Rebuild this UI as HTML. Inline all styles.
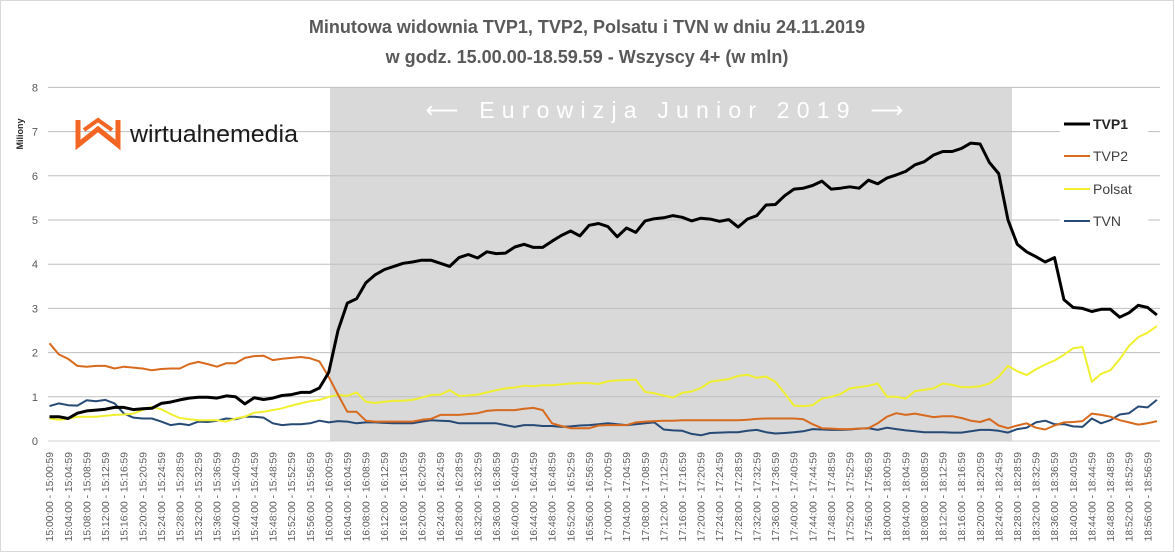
<!DOCTYPE html>
<html><head><meta charset="utf-8">
<style>
html,body{margin:0;padding:0;background:#fff;}
body{width:1175px;height:554px;overflow:hidden;font-family:"Liberation Sans",sans-serif;}
svg text{font-family:"Liberation Sans",sans-serif;}
</style></head>
<body>
<svg id="chart" width="1175" height="554" viewBox="0 0 1175 554" xmlns="http://www.w3.org/2000/svg">
  <rect x="0.5" y="0.5" width="1173" height="551" fill="#fff" stroke="#d9d9d9"/>
  <g fill="#595959" font-weight="bold" font-size="18" text-anchor="middle">
    <text x="587" y="33">Minutowa widownia TVP1, TVP2, Polsatu i TVN w dniu 24.11.2019</text>
    <text x="587" y="63">w godz. 15.00.00-18.59.59  - Wszyscy 4+ (w mln)</text>
  </g>
  <rect id="band" x="330" y="88" width="682" height="353" fill="#d9d9d9"/>
  <g id="grid"></g>
  <g id="yticks" fill="#595959" font-size="11" text-anchor="end"></g>
  <text transform="translate(23,134) rotate(-90)" font-size="9" font-weight="bold" fill="#262626" text-anchor="middle">Miliony</text>
  <text x="668" y="118" fill="#ffffff" font-size="23" letter-spacing="7.2" text-anchor="middle">⟵ Eurowizja Junior 2019 ⟶</text>
  <g>
    <polyline points="78,120 78,145 98,129 118,145 118,120" fill="none" stroke="#f26522" stroke-width="5" stroke-linejoin="miter"/>
    <polyline points="84,130 98,120 112,130" fill="none" stroke="#f26522" stroke-width="4"/>
    <text x="130" y="142" font-size="24" fill="#1a1a1a" textLength="168" lengthAdjust="spacingAndGlyphs">wirtualnemedia</text>
  </g>
  <g id="xlabels" fill="#595959" font-size="10.3"></g>
  <g id="series"></g>
  <g id="legend"></g>
</svg>
<script>
const minutes = [0,2,4,6,8,10,12,14,16,18,20,22,24,26,28,30,32,34,36,38,40,42,44,46,48,50,52,54,56,58,60,62,64,66,68,70,72,74,76,78,80,82,84,86,88,90,92,94,96,98,100,102,104,106,108,110,112,114,116,118,120,122,124,126,128,130,132,134,136,138,140,142,144,146,148,150,152,154,156,158,160,162,164,166,168,170,172,174,176,178,180,182,184,186,188,190,192,194,196,198,200,202,204,206,208,210,212,214,216,218,220,222,224,226,228,230,232,234,236,238];
const tvp1 = [0.55,0.55,0.51,0.63,0.68,0.70,0.72,0.76,0.76,0.71,0.73,0.74,0.85,0.88,0.93,0.97,0.99,0.99,0.97,1.02,1.0,0.84,0.98,0.94,0.97,1.03,1.05,1.1,1.1,1.2,1.55,2.5,3.12,3.22,3.58,3.76,3.88,3.95,4.02,4.05,4.09,4.09,4.02,3.95,4.15,4.22,4.14,4.28,4.24,4.25,4.39,4.45,4.38,4.38,4.52,4.65,4.75,4.64,4.88,4.92,4.85,4.62,4.82,4.72,4.98,5.03,5.05,5.1,5.06,4.98,5.04,5.02,4.97,5.01,4.84,5.02,5.1,5.34,5.35,5.55,5.7,5.72,5.78,5.88,5.7,5.72,5.75,5.72,5.9,5.82,5.95,6.02,6.1,6.25,6.32,6.47,6.55,6.55,6.62,6.74,6.72,6.3,6.05,5.0,4.45,4.28,4.17,4.05,4.15,3.2,3.02,3.0,2.93,2.98,2.98,2.8,2.9,3.07,3.02,2.85];
const tvp2 = [2.21,1.96,1.86,1.7,1.68,1.7,1.7,1.64,1.68,1.66,1.64,1.6,1.63,1.64,1.64,1.74,1.79,1.74,1.68,1.76,1.76,1.88,1.92,1.93,1.83,1.86,1.88,1.9,1.87,1.8,1.45,1.05,0.66,0.66,0.46,0.44,0.44,0.44,0.44,0.44,0.48,0.5,0.59,0.59,0.59,0.61,0.63,0.68,0.7,0.7,0.7,0.73,0.75,0.7,0.4,0.34,0.29,0.29,0.29,0.35,0.36,0.36,0.36,0.42,0.44,0.45,0.46,0.46,0.47,0.47,0.47,0.47,0.47,0.47,0.47,0.48,0.5,0.51,0.51,0.51,0.51,0.49,0.38,0.29,0.28,0.27,0.27,0.28,0.29,0.4,0.55,0.63,0.59,0.62,0.58,0.54,0.56,0.56,0.52,0.46,0.43,0.5,0.35,0.29,0.35,0.4,0.3,0.26,0.35,0.42,0.43,0.45,0.62,0.59,0.55,0.47,0.42,0.37,0.4,0.45];
const polsat = [0.51,0.48,0.5,0.55,0.55,0.55,0.57,0.59,0.6,0.62,0.7,0.77,0.72,0.61,0.52,0.49,0.47,0.47,0.47,0.44,0.51,0.55,0.64,0.66,0.7,0.74,0.8,0.85,0.9,0.93,1.0,1.04,1.02,1.1,0.89,0.86,0.89,0.91,0.91,0.93,0.98,1.04,1.05,1.15,1.02,1.03,1.05,1.1,1.15,1.19,1.21,1.25,1.24,1.26,1.26,1.28,1.3,1.31,1.31,1.29,1.35,1.37,1.38,1.39,1.11,1.08,1.03,0.98,1.09,1.12,1.2,1.34,1.37,1.4,1.47,1.5,1.43,1.46,1.34,1.08,0.8,0.79,0.81,0.96,1.0,1.06,1.19,1.22,1.25,1.3,1.0,1.0,0.96,1.13,1.16,1.19,1.3,1.27,1.22,1.22,1.24,1.3,1.45,1.7,1.58,1.49,1.62,1.73,1.82,1.95,2.1,2.13,1.34,1.52,1.6,1.85,2.15,2.35,2.45,2.6];
const tvn = [0.79,0.85,0.81,0.8,0.92,0.9,0.93,0.85,0.62,0.53,0.51,0.51,0.44,0.36,0.39,0.36,0.44,0.43,0.46,0.51,0.49,0.55,0.55,0.53,0.4,0.36,0.38,0.38,0.4,0.46,0.42,0.45,0.44,0.4,0.42,0.42,0.41,0.4,0.4,0.4,0.44,0.47,0.46,0.45,0.4,0.4,0.4,0.4,0.4,0.36,0.32,0.36,0.36,0.34,0.34,0.32,0.33,0.35,0.36,0.38,0.4,0.38,0.36,0.38,0.4,0.42,0.26,0.24,0.23,0.16,0.13,0.18,0.19,0.2,0.2,0.23,0.25,0.2,0.17,0.18,0.2,0.22,0.27,0.26,0.25,0.25,0.26,0.28,0.29,0.25,0.3,0.27,0.24,0.22,0.2,0.2,0.2,0.19,0.19,0.22,0.25,0.25,0.23,0.19,0.27,0.3,0.42,0.46,0.38,0.38,0.33,0.32,0.51,0.4,0.47,0.6,0.63,0.78,0.76,0.93];
const yTicks = [0,1,2,3,4,5,6,7,8];
const seriesNames = ["TVP1","TVP2","Polsat","TVN"];

const NS = "http://www.w3.org/2000/svg";
const X0 = 49.5, XS = 4.653, Y0 = 441, YS = 44.2;
function xScale(m){ return X0 + m*XS; }
function yScale(v){ return Y0 - v*YS; }
function el(tag, parent){ const e = document.createElementNS(NS, tag); parent.appendChild(e); return e; }
function pad(n){ return (n<10?"0":"")+n; }

const grid = document.getElementById("grid");
const yt = document.getElementById("yticks");
yTicks.forEach(t => {
  const l = el("line", grid);
  
  
  l.setAttribute("x1", 48); l.setAttribute("x2", 1160);
  l.setAttribute("y1", yScale(t)); l.setAttribute("y2", yScale(t));
  l.setAttribute("stroke", t===0 ? "#d0d0d0" : "#bfbfbf"); l.setAttribute("stroke-width", 1);
  const tx = el("text", yt);
  
  
  tx.setAttribute("x", 38); tx.setAttribute("y", yScale(t)+4);
  tx.textContent = t;
});

const xl = document.getElementById("xlabels");
for (let m = 0; m < 240; m += 4) {
  const h = 15 + Math.floor(m/60), mm = m % 60;
  const s = h+":"+pad(mm)+":00 - "+h+":"+pad(mm)+":59";
  const tx = el("text", xl);
  
  
  const x = xScale(m) + 3.7;
  tx.setAttribute("transform", "translate("+x+",452) rotate(-90)");
  tx.setAttribute("text-anchor", "end");
  tx.textContent = s;
}

const colors = ["#000000","#d86a1e","#f0f030","#264a75"];
const widths = [3, 2, 2, 2];
const data = [tvp1, tvp2, polsat, tvn];
const sg = document.getElementById("series");
[3,2,1,0].forEach(i => {
  const p = el("polyline", sg);
  
  
  p.setAttribute("points", data[i].map((v,k) => xScale(minutes[k]).toFixed(1)+","+yScale(v).toFixed(1)).join(" "));
  p.setAttribute("fill", "none");
  p.setAttribute("stroke", colors[i]);
  p.setAttribute("stroke-width", widths[i]);
  p.setAttribute("stroke-linejoin", "round");
});

const lg = document.getElementById("legend");
const legY = [124, 156, 189, 221];
seriesNames.forEach((n, i) => {
  const g = el("g", lg);
  
  
  const bg = el("rect", g);
  bg.setAttribute("x", 1060); bg.setAttribute("y", legY[i]-12);
  bg.setAttribute("width", 88); bg.setAttribute("height", 22); bg.setAttribute("fill", "#fff");
  const l = el("line", g);
  l.setAttribute("x1", 1064); l.setAttribute("x2", 1090);
  l.setAttribute("y1", legY[i]); l.setAttribute("y2", legY[i]);
  l.setAttribute("stroke", colors[i]); l.setAttribute("stroke-width", widths[i]);
  const t = el("text", g);
  t.setAttribute("x", 1093); t.setAttribute("y", legY[i]+5);
  t.setAttribute("font-size", 14);
  t.setAttribute("fill", i===0 ? "#262626" : "#404040");
  if (i===0) t.setAttribute("font-weight", "bold");
  t.textContent = n;
});
</script>
</body></html>
